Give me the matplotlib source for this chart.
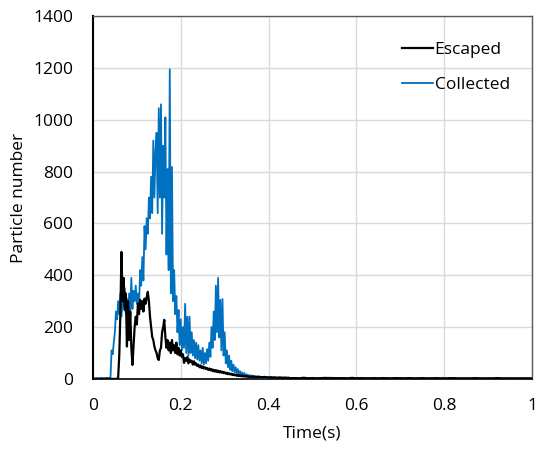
import numpy as np
import matplotlib.pyplot as plt

collected_main = [
    0, 0, 2, 3, 2, 3, 2, 3, 4, 3, 2, 3, 4, 3, 4, 3, 5,
    110, 95, 140, 180, 260, 230, 300, 250, 330, 240, 300, 280, 350,
    250, 310, 230, 330, 260, 390, 270, 340, 300, 360,
    290, 330, 280, 420, 360, 470, 380, 590, 500, 620,
    560, 700, 620, 780, 640, 920, 700, 880, 950, 640,
    1045, 700, 1060, 560, 900, 700, 1010, 480, 810, 420,
    1195, 330, 818, 300, 420, 250, 320, 180, 266, 130,
    230, 110, 200, 120, 290, 100, 240, 90, 240, 100,
    180, 90, 150, 80, 140, 75, 130, 70, 110, 60,
    120, 55, 100, 60, 115, 70, 140, 85, 200, 120,
    260, 150, 360, 180, 390, 160, 305, 110, 308, 90,
    180, 60, 110, 45, 90, 35, 70, 30, 55, 25,
    45, 20, 38, 18, 30, 15, 25, 12, 22, 10,
    18, 9, 15, 8, 14, 7, 12, 6, 11, 6,
    10, 5, 9, 5, 8, 4, 8, 4, 7, 4,
    6, 4, 6, 3, 5, 4, 6, 3, 5, 4,
    5, 3, 6, 4, 5, 3, 5, 4, 6, 3,
]
escaped_main = [
    0, 0, 0, 0, 0, 0, 0, 0, 0, 0, 0, 0, 0, 0, 0, 0, 0,
    0, 0, 0, 0, 0, 0, 5, 90, 250, 490, 300, 390, 266,
    330, 125, 300, 150, 260, 120, 54, 130, 200, 240,
    210, 290, 250, 305, 270, 300, 260, 310, 290, 316,
    336, 300, 240, 200, 162, 150, 125, 110, 100, 80,
    73, 110, 120, 180, 200, 228, 160, 120, 150, 110,
    140, 100, 150, 110, 130, 100, 140, 95, 120, 90,
    110, 85, 95, 62, 80, 70, 85, 60, 75, 65,
    70, 55, 68, 55, 60, 50, 55, 45, 52, 42,
    48, 40, 45, 38, 42, 35, 40, 33, 38, 30,
    35, 28, 34, 27, 32, 25, 30, 24, 28, 22,
    26, 20, 24, 18, 22, 17, 20, 15, 18, 14,
    16, 12, 15, 11, 14, 10, 13, 9, 12, 9,
    11, 8, 10, 7, 9, 8, 10, 7, 8, 6,
    9, 7, 8, 6, 7, 5, 8, 6, 7, 5,
    6, 5, 7, 4, 6, 5, 6, 4, 5, 4,
    6, 4, 5, 3, 5, 4, 5, 3, 4, 3,
]
collected_tail = [
    4, 3, 5, 3, 4, 2, 4, 3, 5, 3, 4, 2, 3, 4, 3, 2, 4, 3, 3, 2,
    4, 3, 2, 3, 4, 2, 3, 2, 3, 4, 2, 3, 2, 3, 2, 4, 2, 3, 2, 3,
    2, 3, 2, 2, 3, 2, 3, 2, 2, 3, 2, 2, 3, 2, 2,
]
escaped_tail = [
    3, 2, 4, 2, 3, 2, 3, 4, 2, 3, 2, 3, 2, 4, 2, 3, 2, 2, 3, 2,
    3, 2, 2, 3, 2, 2, 3, 2, 2, 3, 2, 2, 3, 2, 2, 2, 3, 2, 2, 2,
    2, 3, 2, 2, 2, 2, 3, 2, 2, 2, 2, 2, 2, 2, 2,
]

# time grid: fine steps over the active part, coarser over the quiet tail
t_main = np.arange(len(collected_main)) * 0.0025      # 0 .. ~0.45 s
t_tail = 0.46 + np.arange(len(collected_tail)) * 0.01  # 0.46 .. 1.0 s

time = np.concatenate([t_main, t_tail])
collected = np.array(collected_main + collected_tail)
escaped = np.array(escaped_main + escaped_tail)

plt.rcParams['font.family'] = ['Open Sans', 'DejaVu Sans']
fs = 12.5

fig = plt.figure(figsize=(5.37, 4.5), dpi=100)
ax = fig.add_axes([0.173, 0.158, 0.818, 0.806])

ax.plot(time, collected, color='#0070C0', lw=1.3, label='Collected', zorder=3)
ax.plot(time, escaped, color='black', lw=1.6, label='Escaped', zorder=4)

ax.set_xlim(0, 1)
ax.set_ylim(0, 1400)
ax.set_xticks(np.arange(0, 1.01, 0.2))
ax.set_xticklabels(['0', '0.2', '0.4', '0.6', '0.8', '1'])
ax.set_yticks(np.arange(0, 1401, 200))
ax.tick_params(axis='x', length=0, labelsize=fs, colors='black', pad=14)
ax.tick_params(axis='y', length=0, labelsize=fs, colors='black', pad=14)
ax.grid(True, color='#d9d9d9', lw=1)
ax.set_axisbelow(True)

for side in ['top', 'right']:
    ax.spines[side].set_color('#595959')
    ax.spines[side].set_linewidth(1)
ax.spines['left'].set_color('black')
ax.spines['left'].set_linewidth(1.5)
ax.spines['bottom'].set_color('black')
ax.spines['bottom'].set_linewidth(1.2)

ax.set_xlabel('Time(s)', fontsize=fs, labelpad=8)
ax.set_ylabel('Particle number', fontsize=fs, labelpad=5)

handles, labels = ax.get_legend_handles_labels()
ax.legend(handles[::-1], labels[::-1], loc='upper left', frameon=False,
          fontsize=fs, handlelength=1.8, handletextpad=0.1,
          labelspacing=1.1, borderaxespad=0, borderpad=0,
          bbox_to_anchor=(0.703, 0.93))

plt.savefig('out.png')
